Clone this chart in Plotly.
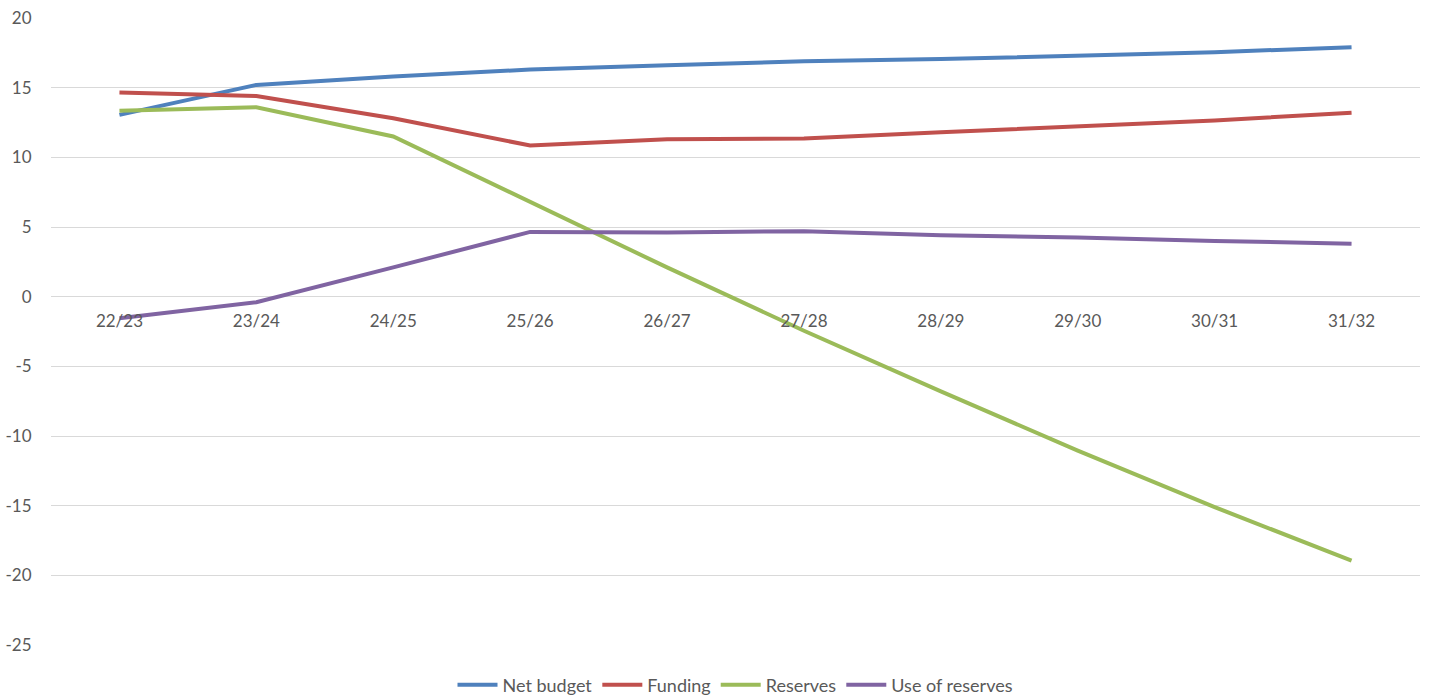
import plotly.graph_objects as go

categories = ["22/23", "23/24", "24/25", "25/26", "26/27", "27/28", "28/29", "29/30", "30/31", "31/32"]
net_budget = [13.05, 15.2, 15.8, 16.3, 16.6, 16.9, 17.05, 17.3, 17.55, 17.9]
funding = [14.65, 14.4, 12.8, 10.85, 11.3, 11.35, 11.8, 12.25, 12.65, 13.2]
reserves = [13.35, 13.6, 11.5, 6.8, 2.1, -2.45, -6.8, -11.05, -15.1, -18.95]
use_of_reserves = [-1.55, -0.4, 2.1, 4.65, 4.6, 4.7, 4.4, 4.25, 4.0, 3.8]
y_ticks = [-25, -20, -15, -10, -5, 0, 5, 10, 15, 20]
y_tick_labels = [str(v) for v in y_ticks]

series = [
    ("Net budget", net_budget, "#4F81BD"),
    ("Funding", funding, "#C0504D"),
    ("Reserves", reserves, "#9BBB59"),
    ("Use of reserves", use_of_reserves, "#8064A2"),
]

fig = go.Figure()
for name, vals, color in series:
    fig.add_trace(go.Scatter(
        x=list(range(len(categories))), y=vals, name=name, mode="lines",
        line=dict(color=color, width=4),
    ))

ymin, ymax = -25, 20
fig.update_layout(
    width=1434, height=697,
    margin=dict(l=51, r=14, t=18, b=52, autoexpand=False),
    paper_bgcolor="white", plot_bgcolor="white",
    font=dict(family="Lato, Liberation Sans, sans-serif", size=17, color="#595959"),
    showlegend=True,
    legend=dict(orientation="h", x=0.5, xanchor="center", y=-0.064, yanchor="middle",
                font=dict(size=18, color="#595959"), itemwidth=40, tracegroupgap=0),
    xaxis=dict(
        range=[-0.5, len(categories) - 0.5],
        tickmode="array", tickvals=list(range(len(categories))), ticktext=categories,
        showgrid=False, zeroline=False,
        showline=False, automargin=False,
        anchor="free", position=(0 - ymin) / (ymax - ymin),
        ticks="outside", ticklen=9, tickcolor="rgba(0,0,0,0)",
        tickfont=dict(size=17, color="#595959"),
    ),
    yaxis=dict(
        range=[ymin, ymax],
        tickmode="array", tickvals=y_ticks, ticktext=y_tick_labels,
        showgrid=True, gridcolor="#D9D9D9", gridwidth=1,
        zeroline=True, zerolinecolor="#D9D9D9", zerolinewidth=1,
        showline=False, automargin=False,
        ticks="outside", ticklen=15, tickcolor="rgba(0,0,0,0)",
        tickfont=dict(size=17, color="#595959"),
    ),
)

fig.write_html(
    "out.html",
    config={"displayModeBar": False},
    post_script="document.body.style.margin='0';document.body.style.overflow='hidden';",
)
